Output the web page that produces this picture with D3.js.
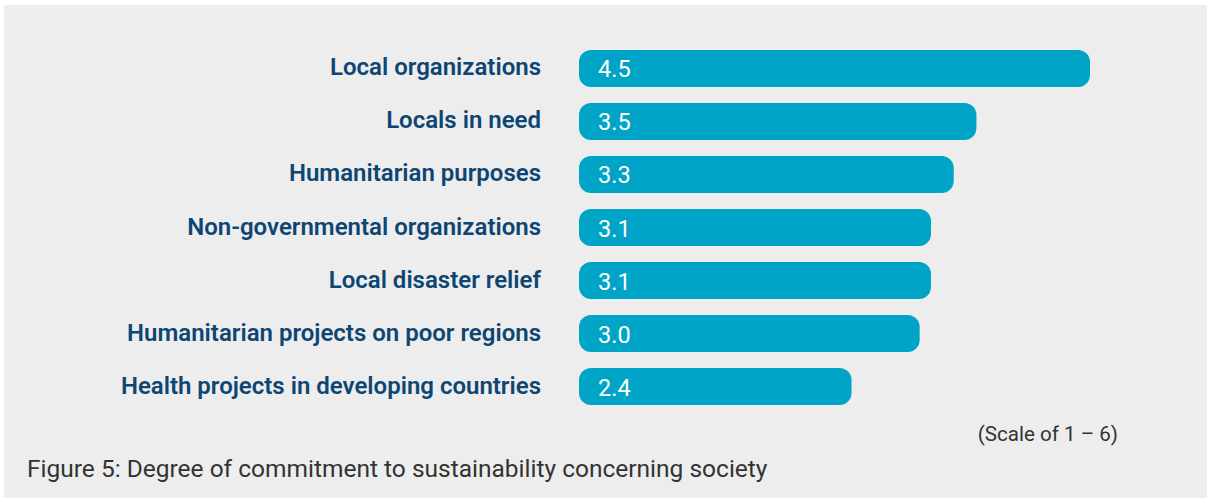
<!DOCTYPE html>
<html>
<head>
<meta charset="utf-8">
<script src="https://cdn.jsdelivr.net/npm/d3@7"></script>
<style>
  html, body { margin: 0; padding: 0; background: #ffffff; }
  svg { display: block; }
</style>
</head>
<body>
<svg id="chart" width="1208" height="498"></svg>
<script>
// Survey items and their mean scores (scale of 1 – 6)
const categories = [
  "Local organizations",
  "Locals in need",
  "Humanitarian purposes",
  "Non-governmental organizations",
  "Local disaster relief",
  "Humanitarian projects on poor regions",
  "Health projects in developing countries"
];
const values = [4.5, 3.5, 3.3, 3.1, 3.1, 3.0, 2.4];
const scaleNote = "(Scale of 1 – 6)";
const caption = "Figure 5: Degree of commitment to sustainability concerning society";

const svg = d3.select("#chart");
const W = 1208, H = 498;

// Panel background
svg.append("rect")
  .attr("x", 4).attr("y", 5)
  .attr("width", W - 5).attr("height", H - 5)
  .attr("fill", "#ededed");

const data = categories.map((c, i) => ({ cat: c, val: values[i] }));

const x = d3.scaleLinear().domain([0, 4.5]).range([579, 1090]);
const y = d3.scaleBand().domain(categories).range([50, 405]).paddingInner(0.302).paddingOuter(0);

const font = "Roboto, 'Noto Sans', sans-serif";

// Bars with rounded ends
svg.append("g").selectAll("rect")
  .data(data)
  .join("rect")
  .attr("x", x(0))
  .attr("y", d => y(d.cat))
  .attr("width", d => x(d.val) - x(0))
  .attr("height", y.bandwidth())
  .attr("rx", 12).attr("ry", 12)
  .attr("fill", "#00a4c6");

// Value labels inside the bars
svg.append("g").selectAll("text")
  .data(data)
  .join("text")
  .attr("x", x(0) + 19)
  .attr("y", d => y(d.cat) + y.bandwidth() / 2 + 9)
  .attr("font-family", font)
  .attr("font-size", 23.5)
  .attr("fill", "#ffffff")
  .text(d => d.val.toFixed(1));

// Category labels, right-aligned left of the bars
svg.append("g").selectAll("text")
  .data(data)
  .join("text")
  .attr("x", 541)
  .attr("y", d => y(d.cat) + y.bandwidth() / 2 + 7)
  .attr("text-anchor", "end")
  .attr("font-family", font)
  .attr("font-weight", 600)
  .attr("font-size", 24)
  .attr("fill", "#0e4673")
  .text(d => d.cat);

// Scale note
svg.append("text")
  .attr("x", 1118).attr("y", 441)
  .attr("text-anchor", "end")
  .attr("font-family", font)
  .attr("font-size", 20.6)
  .attr("fill", "#333333")
  .text(scaleNote);

// Caption
svg.append("text")
  .attr("x", 27).attr("y", 477)
  .attr("font-family", font)
  .attr("font-size", 24.5)
  .attr("fill", "#333333")
  .text(caption);
</script>
</body>
</html>
